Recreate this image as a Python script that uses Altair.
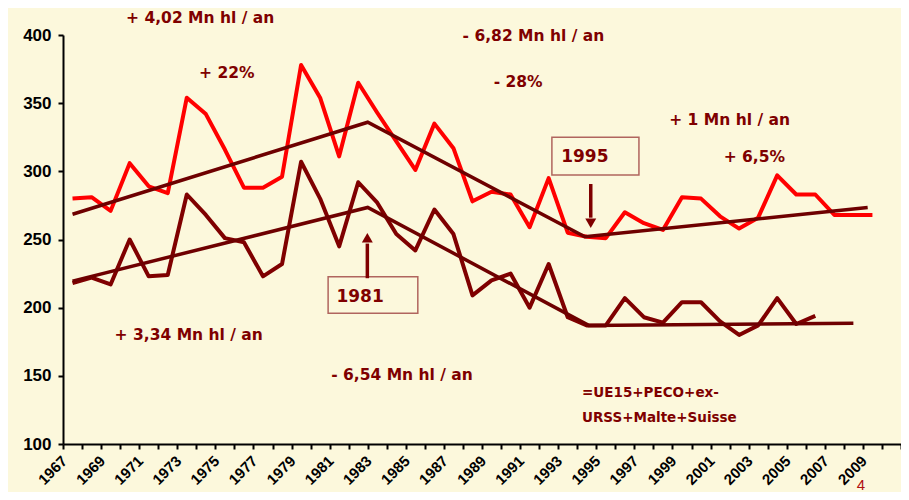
import altair as alt
import pandas as pd

BG = "#FCF8DC"
DARK = "#7F0000"
RED = "#FF0000"
AFONT = "DejaVu Sans"

# --- data ---
red_years = list(range(1967, 2010))
red_vals = [280, 281, 271, 306, 289, 284, 354, 342, 316, 288,
            288, 296, 378, 354, 311, 365, 343, 322, 301, 335,
            317, 278, 285, 283, 259, 295, 255, 252, 251, 270,
            262, 257, 281, 280, 267, 258, 266, 297, 283, 283,
            268, 268, 268]

dark_years = list(range(1967, 2007))
dark_vals = [218, 222, 217, 250, 223, 224, 283, 268, 251, 248,
             223, 232, 307, 280, 245, 292, 277, 254, 242, 272,
             254, 209, 220, 225, 200, 232, 193, 187, 187, 207,
             193, 189, 204, 204, 190, 180, 187, 207, 188, 194]

red_trend_years = [1967, 1982.5, 1993.9, 2008.75]
red_trend_vals = [268.5, 336, 252, 273.5]
dark_trend_years = [1967, 1982.5, 1994.1, 2008]
dark_trend_vals = [219.5, 273.5, 187, 188.5]

ann_texts = ["+ 4,02 Mn hl / an", "+ 22%", "- 6,82 Mn hl / an", "- 28%",
             "+ 1 Mn hl / an", "+ 6,5%", "+ 3,34 Mn hl / an", "- 6,54 Mn hl / an"]
ann_x = [1973.7, 1975.1, 1991.2, 1990.4, 2001.5, 2002.8, 1973.1, 1984.3]
ann_y = [412.5, 371.9, 399.5, 365.7, 337.7, 310.3, 180.0, 150.6]

note_texts = ["=UE15+PECO+ex-", "URSS+Malte+Suisse"]
note_x = [1993.75, 1993.75]
note_y = [137.4, 119.1]

box_labels = ["1981", "1995"]
box_x1 = [1980.42, 1992.17]
box_x2 = [1985.13, 1996.74]
box_y1 = [195.9, 297.3]
box_y2 = [222.7, 325.0]
box_tx = [1982.1, 1993.9]
box_ty = [208.0, 310.3]

arrow_x = [1982.48, 1994.21]
arrow_from = [221.6, 290.7]
arrow_to = [247.0, 266.0]
head_y = [251.3, 262.0]
head_shape = ["triangle-up", "triangle-down"]

page_label = ["4"]
page_x = [2008.4]
page_y = [66.5]

y_ticks = [100, 150, 200, 250, 300, 350, 400]
x_tick_pos = [1966.5 + k for k in range(45)]

# --- tables ---
lines_df = pd.concat([
    pd.DataFrame({"year": red_years, "val": red_vals, "s": "red"}),
    pd.DataFrame({"year": dark_years, "val": dark_vals, "s": "dark"}),
])
trend_df = pd.concat([
    pd.DataFrame({"year": red_trend_years, "val": red_trend_vals, "s": "rt"}),
    pd.DataFrame({"year": dark_trend_years, "val": dark_trend_vals, "s": "dt"}),
])
ann_df = pd.DataFrame({"x": ann_x, "y": ann_y, "t": ann_texts})
note_df = pd.DataFrame({"x": note_x, "y": note_y, "t": note_texts})
box_df = pd.DataFrame({"x1": box_x1, "x2": box_x2, "y1": box_y1, "y2": box_y2,
                       "tx": box_tx, "ty": box_ty, "t": box_labels})
arrow_df = pd.DataFrame({"x": arrow_x, "y1": arrow_from, "y2": arrow_to,
                         "hy": head_y, "shape": head_shape})
page_df = pd.DataFrame({"x": page_x, "y": page_y, "t": page_label})

xscale = alt.Scale(domain=[1966.5, 2010.5], nice=False, zero=False)
yscale = alt.Scale(domain=[100, 400], nice=False, zero=False)

x_axis = alt.Axis(
    values=x_tick_pos,
    labelExpr="((datum.value + 0.5) % 2 == 1 && datum.value < 2009) ? '' + (datum.value + 0.5) : ''",
    labelAngle=-45, labelAlign="right", labelBaseline="middle",
    labelPadding=9, labelOffset=1, title=None, grid=False,
    labelFont="Liberation Sans", labelFontWeight="bold", labelFontSize=15,
    labelColor="black", domainColor="black", domainWidth=2,
    tickColor="black", tickWidth=2, tickSize=5, labelOverlap=False,
    labelBound=False, labelFlush=False,
)
y_axis = alt.Axis(
    values=y_ticks, title=None, grid=False,
    labelFont="Liberation Sans", labelFontWeight="bold", labelFontSize=17,
    labelColor="black", domainColor="black", domainWidth=2,
    tickColor="black", tickWidth=2, tickSize=5, labelPadding=7,
    labelOverlap=False,
)


def X(field):
    return alt.X(field, scale=xscale, axis=x_axis)


def Y(field):
    return alt.Y(field, scale=yscale, axis=y_axis)


lines = alt.Chart(lines_df).mark_line(strokeWidth=4, strokeJoin="round").encode(
    x=X("year:Q"), y=Y("val:Q"),
    color=alt.Color("s:N", scale=alt.Scale(domain=["red", "dark"], range=[RED, DARK]), legend=None),
    detail="s:N",
)
trends = alt.Chart(trend_df).mark_line(strokeWidth=3.5, color="#6E0000").encode(
    x=X("year:Q"), y=Y("val:Q"), detail="s:N",
)

ann = alt.Chart(ann_df).mark_text(font=AFONT, fontWeight="bold", fontSize=15.5,
                                  color=DARK, align="center", baseline="middle").encode(
    x=X("x:Q"), y=Y("y:Q"), text="t:N")
notes = alt.Chart(note_df).mark_text(font=AFONT, fontWeight="bold", fontSize=13.5,
                                     color=DARK, align="left", baseline="middle").encode(
    x=X("x:Q"), y=Y("y:Q"), text="t:N")

boxes = alt.Chart(box_df).mark_rect(fill=BG, stroke="#B0655E", strokeWidth=1.5).encode(
    x=X("x1:Q"), x2="x2:Q", y=Y("y1:Q"), y2="y2:Q")
box_text = alt.Chart(box_df).mark_text(font=AFONT, fontWeight="bold", fontSize=17,
                                       color=DARK, align="center", baseline="middle").encode(
    x=X("tx:Q"), y=Y("ty:Q"), text="t:N")

shafts = alt.Chart(arrow_df).mark_rule(strokeWidth=3.5, color=DARK).encode(
    x=X("x:Q"), y=Y("y1:Q"), y2="y2:Q")
heads = alt.Chart(arrow_df).mark_point(filled=True, size=120, color=DARK, opacity=1).encode(
    x=X("x:Q"), y=Y("hy:Q"),
    shape=alt.Shape("shape:N", scale=alt.Scale(domain=["triangle-up", "triangle-down"],
                                               range=["triangle-up", "triangle-down"]), legend=None))

page = alt.Chart(page_df).mark_text(font="Liberation Sans", fontSize=15, color="#B01010",
                                    align="center", baseline="alphabetic").encode(
    x=X("x:Q"), y=Y("y:Q"), text="t:N")

chart = alt.layer(lines, trends, boxes, box_text, shafts, heads, ann, notes, page).properties(
    width=838, height=409,
    background=BG,
    autosize=alt.AutoSizeParams(type="none"),
    padding={"left": 55, "top": 27, "right": 0, "bottom": 48},
).configure_view(stroke=None).configure_axis(labelOverlap=False)

chart.save("out.html", embed_options={"renderer": "svg", "actions": False})
